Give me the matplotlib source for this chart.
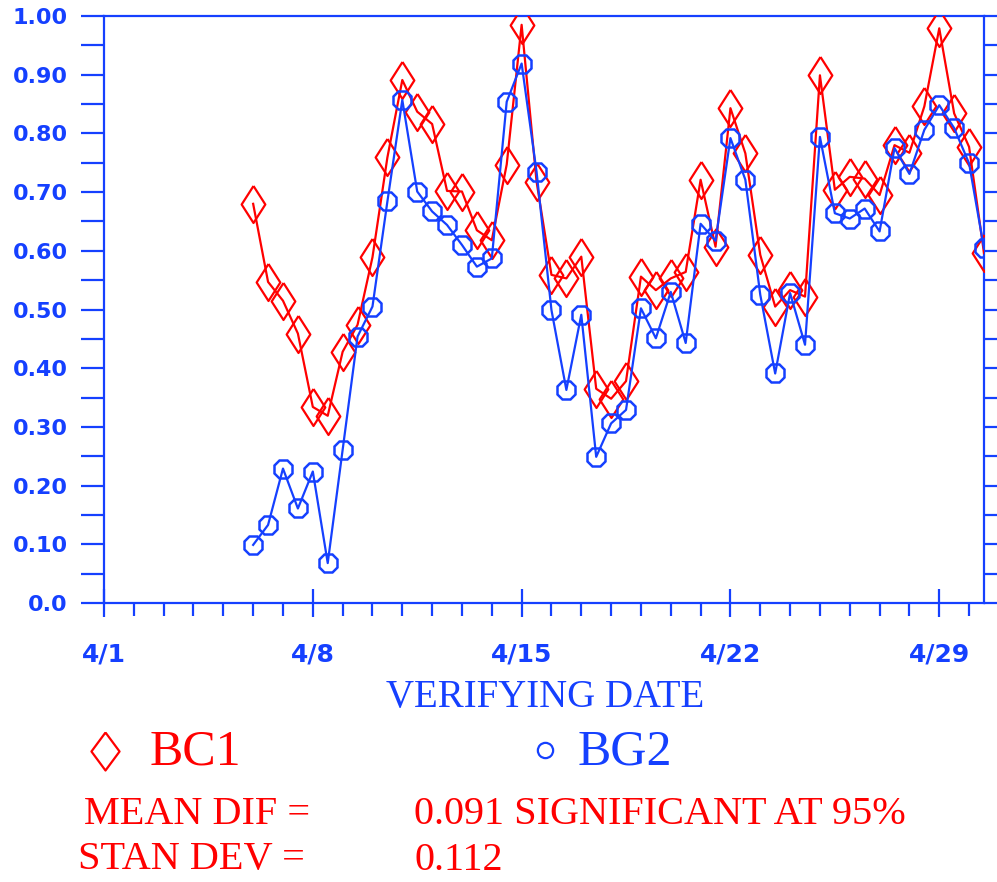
import numpy as np
import matplotlib
matplotlib.use("Agg")
import matplotlib.pyplot as plt
from matplotlib.lines import Line2D
from matplotlib.ticker import MultipleLocator, FixedLocator

# ---- data (days after 4/1 00Z, 12-hourly) ----
days = np.arange(5.0, 29.51, 0.5)
bc1 = [0.680, 0.547, 0.515, 0.459, 0.334, 0.319, 0.428, 0.474, 0.589, 0.759,
       0.891, 0.837, 0.816, 0.702, 0.701, 0.635, 0.618, 0.747, 0.985, 0.718,
       0.559, 0.553, 0.590, 0.365, 0.348, 0.378, 0.556, 0.533, 0.553, 0.564,
       0.721, 0.607, 0.843, 0.766, 0.593, 0.505, 0.533, 0.522, 0.899, 0.704,
       0.726, 0.723, 0.695, 0.780, 0.767, 0.846, 0.979, 0.834, 0.777, 0.596]
bg2 = [0.099, 0.133, 0.229, 0.161, 0.224, 0.068, 0.261, 0.454, 0.505, 0.684,
       0.857, 0.701, 0.667, 0.644, 0.610, 0.573, 0.587, 0.854, 0.919, 0.735,
       0.499, 0.363, 0.491, 0.249, 0.306, 0.329, 0.502, 0.451, 0.530, 0.443,
       0.646, 0.617, 0.792, 0.721, 0.525, 0.391, 0.528, 0.440, 0.794, 0.664,
       0.655, 0.672, 0.633, 0.775, 0.731, 0.806, 0.848, 0.809, 0.749, 0.604]
xtick_pos = [0, 7, 14, 21, 28]
xtick_labels = ["4/1", "4/8", "4/15", "4/22", "4/29"]
ytick_vals = [0.0, 0.1, 0.2, 0.3, 0.4, 0.5, 0.6, 0.7, 0.8, 0.9, 1.0]
ytick_labels = ["0.0", "0.10", "0.20", "0.30", "0.40", "0.50", "0.60",
                "0.70", "0.80", "0.90", "1.00"]
series_names = ["BC1", "BG2"]
mean_dif = "0.091"
stan_dev = "0.112"

BLUE = "#1540ff"
RED = "#ff0000"
W, H = 997, 882
PX = 72 / 100  # points per pixel

diamond_plot = [(0, 0.5), (0.32, 0), (0, -0.5), (-0.32, 0), (0, 0.5)]
diamond_leg = [(0, 0.5), (0.37, 0), (0, -0.5), (-0.37, 0), (0, 0.5)]

fig = plt.figure(figsize=(W / 100, H / 100), dpi=100)
ax = fig.add_axes([104 / W, 1 - 603 / H, (984 - 104) / W, (603 - 16) / H])

ax.plot(days, bc1, color=RED, lw=1.6, marker=diamond_plot, ms=37 * PX,
        mfc="none", mec=RED, mew=1.6, zorder=3)
ax.plot(days, bg2, color=BLUE, lw=1.6, marker="8", ms=20 * PX, mfc="none",
        mec=BLUE, mew=1.8, zorder=4)

ax.set_xlim(0, 29.5)
ax.set_ylim(0, 1.0)
for s in ax.spines.values():
    s.set_color(BLUE)
    s.set_linewidth(1.6)

ax.xaxis.set_major_locator(FixedLocator(xtick_pos))
ax.set_xticklabels(xtick_labels)
ax.xaxis.set_minor_locator(MultipleLocator(1))
ax.tick_params(axis="x", which="major", direction="inout", length=19.5,
               width=1.6, color=BLUE, pad=18.5, labelsize=18,
               labelcolor=BLUE)
ax.tick_params(axis="x", which="minor", direction="out", length=9.5,
               width=1.6, color=BLUE)
for lab in ax.get_xticklabels():
    lab.set_fontweight("bold")

ax.yaxis.set_major_locator(FixedLocator(ytick_vals))
ax.set_yticklabels(ytick_labels)
ax.yaxis.set_minor_locator(MultipleLocator(0.05))
ax.tick_params(axis="y", which="both", direction="out", length=16.5,
               width=1.6, color=BLUE, left=True, right=True)
ax.tick_params(axis="y", which="major", pad=9.5, labelsize=16,
               labelcolor=BLUE)
for lab in ax.get_yticklabels():
    lab.set_fontweight("bold")

serif = "Liberation Serif"
def ftext(x, y, s, **kw):
    fig.text(x / W, 1 - y / H, s, family=serif, **kw)

ftext(545, 698, "VERIFYING DATE", color=BLUE, fontsize=28,
      ha="center", va="center")

# legend symbols
fig.add_artist(Line2D([105 / W], [1 - 751 / H], marker=diamond_leg,
                      ms=38 * PX, mfc="none", mec=RED, mew=1.6, ls="none",
                      transform=fig.transFigure))
ftext(150, 752, series_names[0], color=RED, fontsize=36, ha="left",
      va="center")
fig.add_artist(Line2D([545 / W], [1 - 750 / H], marker="o", ms=11,
                      mfc="none", mec=BLUE, mew=1.6, ls="none",
                      transform=fig.transFigure))
ftext(578, 752, series_names[1], color=BLUE, fontsize=36, ha="left",
      va="center")

ftext(84, 815, "MEAN DIF =", color=RED, fontsize=29, ha="left", va="center")
ftext(414, 815, mean_dif + " SIGNIFICANT AT 95%", color=RED, fontsize=29,
      ha="left", va="center")
ftext(78, 860, "STAN DEV =", color=RED, fontsize=29, ha="left", va="center")
ftext(414, 860, stan_dev, color=RED, fontsize=29, ha="left", va="center")

fig.savefig("out.png", dpi=100)
